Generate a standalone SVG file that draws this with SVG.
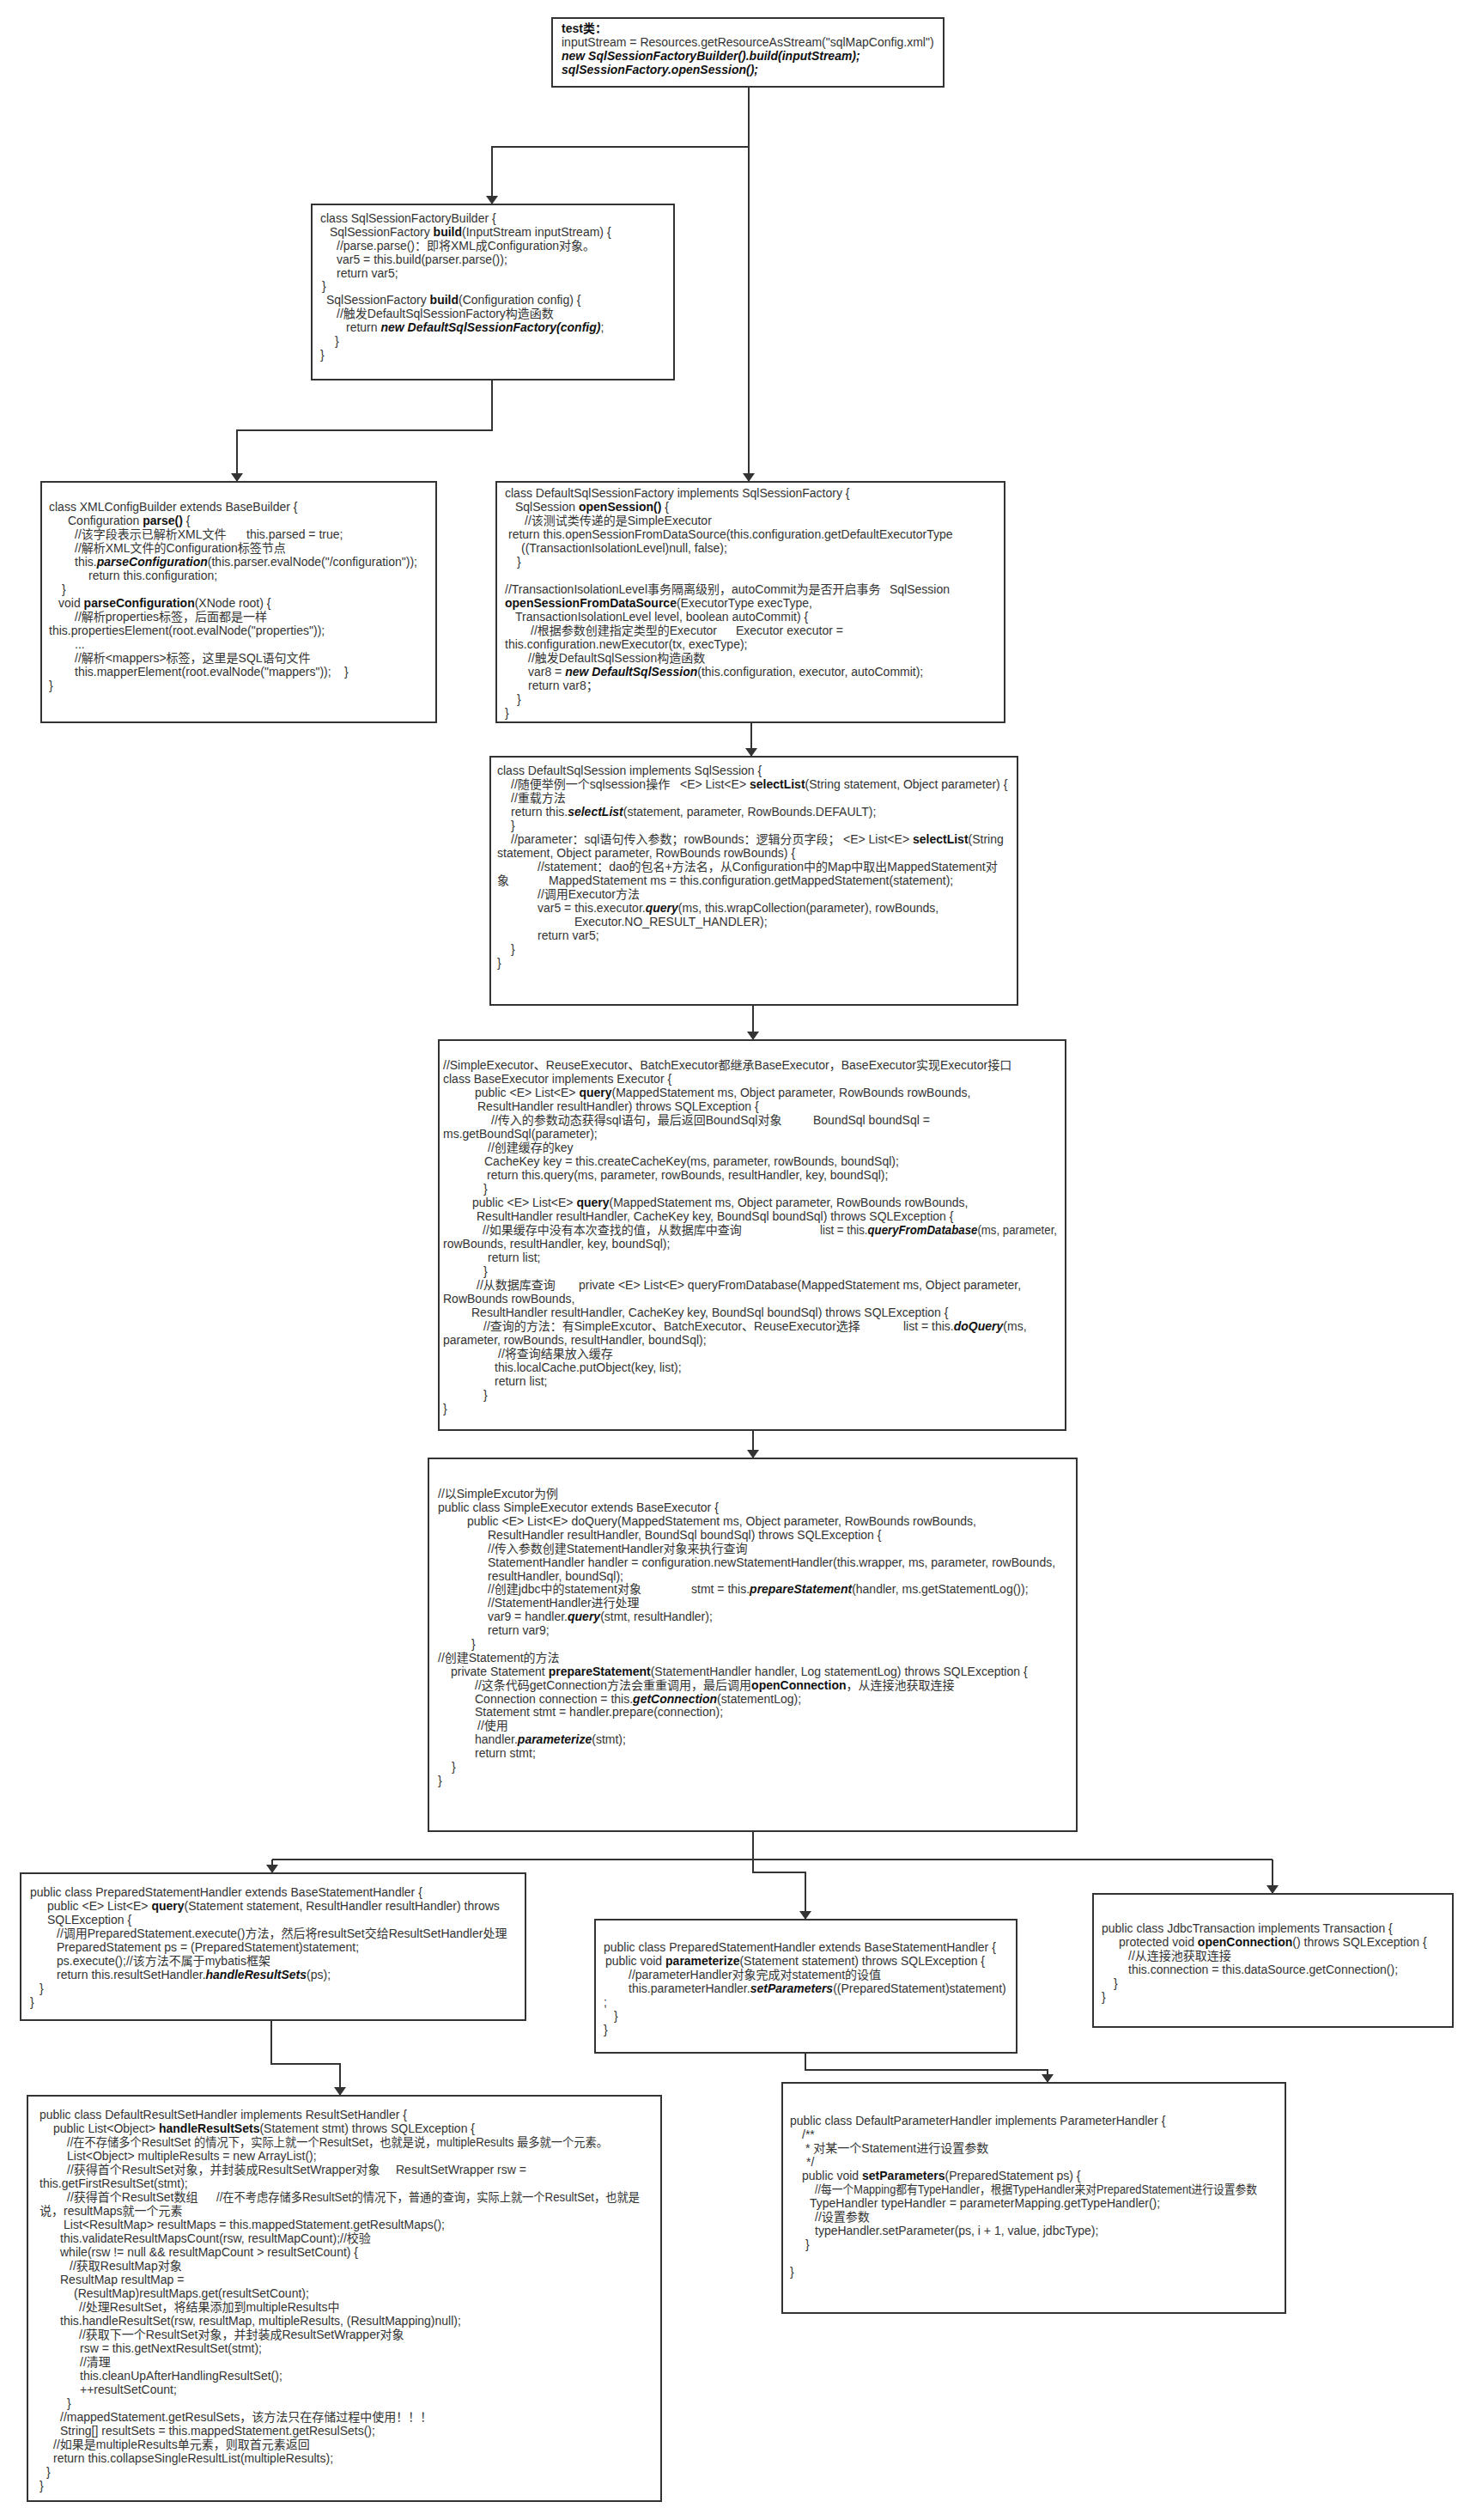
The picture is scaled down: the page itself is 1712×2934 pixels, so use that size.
<svg xmlns="http://www.w3.org/2000/svg" width="1712" height="2934" viewBox="0 0 1712 2934">
<defs>
<style>
.t{font-family:"Liberation Sans","Noto Sans CJK SC",sans-serif;font-size:14px;fill:#333}
.b{font-weight:bold;fill:#111}
.bi{font-weight:bold;font-style:italic;fill:#111}
.box{fill:#fff;stroke:#333;stroke-width:2}
.wire{fill:none;stroke:#333;stroke-width:2}
.arr{fill:none;stroke:#333;stroke-width:2;marker-end:url(#ah)}
</style>
<marker id="ah" viewBox="0 0 10 14" refX="10" refY="7" markerWidth="10" markerHeight="14" markerUnits="userSpaceOnUse" orient="auto">
<path d="M0,0 L10,7 L0,14 z" fill="#333"/>
</marker>
</defs>
<rect width="1712" height="2934" fill="#fff"/>

<g id="connectors">
<path class="arr" d="M872,101 V561"/>
<path class="arr" d="M872,171 H573 V238"/>
<path class="arr" d="M573,442 V501 H276 V561"/>
<path class="arr" d="M875,841 V881"/>
<path class="arr" d="M877,1170 V1211"/>
<path class="arr" d="M877,1665 V1698"/>
<path class="wire" d="M317,2165 H1482"/>
<path class="arr" d="M877,2132 V2180 H938 V2235"/>
<path class="arr" d="M317,2165 V2181"/>
<path class="arr" d="M1482,2165 V2205"/>
<path class="arr" d="M316,2352 V2403 H396 V2440"/>
<path class="arr" d="M938,2390 V2410 H1220 V2425"/>
</g>

<g id="node-test">
<rect class="box" x="643" y="21" width="456" height="80"/>
<text class="t" x="654" y="38"><tspan class="b">test类：</tspan></text>
<text class="t" x="654" y="54">inputStream = Resources.getResourceAsStream("sqlMapConfig.xml")</text>
<text class="t" x="654" y="70"><tspan class="bi">new SqlSessionFactoryBuilder().build(inputStream);</tspan></text>
<text class="t" x="654" y="86"><tspan class="bi">sqlSessionFactory.openSession();</tspan></text>
</g>

<g id="node-sqlsessionfactorybuilder">
<rect class="box" x="363" y="238" width="422" height="204"/>
<text class="t" x="373" y="259">class SqlSessionFactoryBuilder {</text>
<text class="t" x="384" y="275">SqlSessionFactory <tspan class="b">build</tspan>(InputStream inputStream) {</text>
<text class="t" x="392" y="291">//parse.parse()：即将XML成Configuration对象。</text>
<text class="t" x="392" y="307">var5 = this.build(parser.parse());</text>
<text class="t" x="392" y="323">return var5;</text>
<text class="t" x="375" y="338">}</text>
<text class="t" x="380" y="354">SqlSessionFactory <tspan class="b">build</tspan>(Configuration config) {</text>
<text class="t" x="392" y="370">//触发DefaultSqlSessionFactory构造函数</text>
<text class="t" x="403" y="386">return <tspan class="bi">new DefaultSqlSessionFactory(config)</tspan>;</text>
<text class="t" x="390" y="402">}</text>
<text class="t" x="373" y="418">}</text>
</g>

<g id="node-xmlconfigbuilder">
<rect class="box" x="48" y="561" width="460" height="280"/>
<text class="t" x="57" y="595">class XMLConfigBuilder extends BaseBuilder {</text>
<text class="t" x="79" y="611">Configuration <tspan class="b">parse()</tspan> {</text>
<text class="t" x="87" y="627">//该字段表示已解析XML文件<tspan x="287">this.parsed = true;</tspan></text>
<text class="t" x="87" y="643">//解析XML文件的Configuration标签节点</text>
<text class="t" x="87" y="659">this.<tspan class="bi">parseConfiguration</tspan>(this.parser.evalNode("/configuration"));</text>
<text class="t" x="103" y="675">return this.configuration;</text>
<text class="t" x="72" y="691">}</text>
<text class="t" x="68" y="707">void <tspan class="b">parseConfiguration</tspan>(XNode root) {</text>
<text class="t" x="87" y="723">//解析properties标签，后面都是一样</text>
<text class="t" x="57" y="739">this.propertiesElement(root.evalNode("properties"));</text>
<text class="t" x="87" y="755">...</text>
<text class="t" x="87" y="771">//解析&lt;mappers&gt;标签，这里是SQL语句文件</text>
<text class="t" x="87" y="787">this.mapperElement(root.evalNode("mappers"));<tspan x="401">}</tspan></text>
<text class="t" x="57" y="803">}</text>
</g>

<g id="node-defaultsqlsessionfactory">
<rect class="box" x="578" y="561" width="592" height="280"/>
<text class="t" x="588" y="579">class DefaultSqlSessionFactory implements SqlSessionFactory {</text>
<text class="t" x="600" y="595">SqlSession <tspan class="b">openSession()</tspan> {</text>
<text class="t" x="611" y="611">//该测试类传递的是SimpleExecutor</text>
<text class="t" x="592" y="627">return this.openSessionFromDataSource(this.configuration.getDefaultExecutorType</text>
<text class="t" x="607" y="643">((TransactionIsolationLevel)null, false);</text>
<text class="t" x="602" y="659">}</text>
<text class="t" x="588" y="691">//TransactionIsolationLevel事务隔离级别，autoCommit为是否开启事务<tspan x="1036">SqlSession</tspan></text>
<text class="t" x="588" y="707"><tspan class="b">openSessionFromDataSource</tspan>(ExecutorType execType,</text>
<text class="t" x="600" y="723">TransactionIsolationLevel level, boolean autoCommit) {</text>
<text class="t" x="618" y="739">//根据参数创建指定类型的Executor<tspan x="857">Executor executor =</tspan></text>
<text class="t" x="588" y="755">this.configuration.newExecutor(tx, execType);</text>
<text class="t" x="615" y="771">//触发DefaultSqlSession构造函数</text>
<text class="t" x="615" y="787">var8 = <tspan class="bi">new DefaultSqlSession</tspan>(this.configuration, executor, autoCommit);</text>
<text class="t" x="615" y="803">return var8；</text>
<text class="t" x="602" y="819">}</text>
<text class="t" x="588" y="835">}</text>
</g>

<g id="node-defaultsqlsession">
<rect class="box" x="571" y="881" width="614" height="289"/>
<text class="t" x="579" y="902">class DefaultSqlSession implements SqlSession {</text>
<text class="t" x="595" y="918">//随便举例一个sqlsession操作<tspan x="792">&lt;E&gt; List&lt;E&gt; </tspan><tspan class="b">selectList</tspan>(String statement, Object parameter) {</text>
<text class="t" x="595" y="934">//重载方法</text>
<text class="t" x="595" y="950">return this.<tspan class="bi">selectList</tspan>(statement, parameter, RowBounds.DEFAULT);</text>
<text class="t" x="595" y="966">}</text>
<text class="t" x="595" y="982">//parameter：sql语句传入参数；rowBounds：逻辑分页字段；<tspan x="982">&lt;E&gt; List&lt;E&gt; </tspan><tspan class="b">selectList</tspan>(String</text>
<text class="t" x="579" y="998">statement, Object parameter, RowBounds rowBounds) {</text>
<text class="t" x="626" y="1014">//statement：dao的包名+方法名，从Configuration中的Map中取出MappedStatement对</text>
<text class="t" x="579" y="1030">象<tspan x="639">MappedStatement ms = this.configuration.getMappedStatement(statement);</tspan></text>
<text class="t" x="626" y="1046">//调用Executor方法</text>
<text class="t" x="626" y="1062">var5 = this.executor.<tspan class="bi">query</tspan>(ms, this.wrapCollection(parameter), rowBounds,</text>
<text class="t" x="669" y="1078">Executor.NO_RESULT_HANDLER);</text>
<text class="t" x="626" y="1094">return var5;</text>
<text class="t" x="595" y="1110">}</text>
<text class="t" x="579" y="1126">}</text>
</g>

<g id="node-baseexecutor">
<rect class="box" x="511" y="1211" width="730" height="454"/>
<text class="t" x="516" y="1245">//SimpleExecutor、ReuseExecutor、BatchExecutor都继承BaseExecutor，BaseExecutor实现Executor接口</text>
<text class="t" x="516" y="1261">class BaseExecutor implements Executor {</text>
<text class="t" x="553" y="1277">public &lt;E&gt; List&lt;E&gt; <tspan class="b">query</tspan>(MappedStatement ms, Object parameter, RowBounds rowBounds,</text>
<text class="t" x="556" y="1293">ResultHandler resultHandler) throws SQLException {</text>
<text class="t" x="572" y="1309">//传入的参数动态获得sql语句，最后返回BoundSql对象<tspan x="947">BoundSql boundSql =</tspan></text>
<text class="t" x="516" y="1325">ms.getBoundSql(parameter);</text>
<text class="t" x="568" y="1341">//创建缓存的key</text>
<text class="t" x="564" y="1357">CacheKey key = this.createCacheKey(ms, parameter, rowBounds, boundSql);</text>
<text class="t" x="567" y="1373">return this.query(ms, parameter, rowBounds, resultHandler, key, boundSql);</text>
<text class="t" x="563" y="1389">}</text>
<text class="t" x="550" y="1405">public &lt;E&gt; List&lt;E&gt; <tspan class="b">query</tspan>(MappedStatement ms, Object parameter, RowBounds rowBounds,</text>
<text class="t" x="555" y="1421">ResultHandler resultHandler, CacheKey key, BoundSql boundSql) throws SQLException {</text>
<text class="t" x="562" y="1437">//如果缓存中没有本次查找的值，从数据库中查询</text>
<text class="t" x="955" y="1437" textLength="276" lengthAdjust="spacingAndGlyphs">list = this.<tspan class="bi">queryFromDatabase</tspan>(ms, parameter,</text>
<text class="t" x="516" y="1453">rowBounds, resultHandler, key, boundSql);</text>
<text class="t" x="568" y="1469">return list;</text>
<text class="t" x="563" y="1485">}</text>
<text class="t" x="555" y="1501">//从数据库查询<tspan x="674">private &lt;E&gt; List&lt;E&gt; queryFromDatabase(MappedStatement ms, Object parameter,</tspan></text>
<text class="t" x="516" y="1517">RowBounds rowBounds,</text>
<text class="t" x="549" y="1533">ResultHandler resultHandler, CacheKey key, BoundSql boundSql) throws SQLException {</text>
<text class="t" x="563" y="1549">//查询的方法：有SimpleExcutor、BatchExecutor、ReuseExecutor选择<tspan x="1052">list = this.</tspan><tspan class="bi">doQuery</tspan>(ms,</text>
<text class="t" x="516" y="1565">parameter, rowBounds, resultHandler, boundSql);</text>
<text class="t" x="580" y="1581">//将查询结果放入缓存</text>
<text class="t" x="576" y="1597">this.localCache.putObject(key, list);</text>
<text class="t" x="576" y="1613">return list;</text>
<text class="t" x="563" y="1629">}</text>
<text class="t" x="516" y="1645">}</text>
</g>

<g id="node-simpleexecutor">
<rect class="box" x="499" y="1698" width="755" height="434"/>
<text class="t" x="510" y="1744">//以SimpleExcutor为例</text>
<text class="t" x="510" y="1760">public class SimpleExecutor extends BaseExecutor {</text>
<text class="t" x="544" y="1776">public &lt;E&gt; List&lt;E&gt; doQuery(MappedStatement ms, Object parameter, RowBounds rowBounds,</text>
<text class="t" x="568" y="1792">ResultHandler resultHandler, BoundSql boundSql) throws SQLException {</text>
<text class="t" x="568" y="1808">//传入参数创建StatementHandler对象来执行查询</text>
<text class="t" x="568" y="1824">StatementHandler handler = configuration.newStatementHandler(this.wrapper, ms, parameter, rowBounds,</text>
<text class="t" x="568" y="1840">resultHandler, boundSql);</text>
<text class="t" x="568" y="1855">//创建jdbc中的statement对象<tspan x="805">stmt = this.</tspan><tspan class="bi">prepareStatement</tspan>(handler, ms.getStatementLog());</text>
<text class="t" x="568" y="1871">//StatementHandler进行处理</text>
<text class="t" x="568" y="1887">var9 = handler.<tspan class="bi">query</tspan>(stmt, resultHandler);</text>
<text class="t" x="568" y="1903">return var9;</text>
<text class="t" x="549" y="1919">}</text>
<text class="t" x="510" y="1935">//创建Statement的方法</text>
<text class="t" x="525" y="1951">private Statement <tspan class="b">prepareStatement</tspan>(StatementHandler handler, Log statementLog) throws SQLException {</text>
<text class="t" x="553" y="1967">//这条代码getConnection方法会重重调用，最后调用<tspan class="b">openConnection</tspan>，从连接池获取连接</text>
<text class="t" x="553" y="1983">Connection connection = this.<tspan class="bi">getConnection</tspan>(statementLog);</text>
<text class="t" x="553" y="1998">Statement stmt = handler.prepare(connection);</text>
<text class="t" x="556" y="2014">//使用</text>
<text class="t" x="553" y="2030">handler.<tspan class="bi">parameterize</tspan>(stmt);</text>
<text class="t" x="553" y="2046">return stmt;</text>
<text class="t" x="526" y="2062">}</text>
<text class="t" x="510" y="2078">}</text>
</g>

<g id="node-preparedstatementhandler-query">
<rect class="box" x="24" y="2181" width="588" height="171"/>
<text class="t" x="35" y="2208">public class PreparedStatementHandler extends BaseStatementHandler {</text>
<text class="t" x="55" y="2224">public &lt;E&gt; List&lt;E&gt; <tspan class="b">query</tspan>(Statement statement, ResultHandler resultHandler) throws</text>
<text class="t" x="55" y="2240">SQLException {</text>
<text class="t" x="66" y="2256">//调用PreparedStatement.execute()方法，然后将resultSet交给ResultSetHandler处理</text>
<text class="t" x="66" y="2272">PreparedStatement ps = (PreparedStatement)statement;</text>
<text class="t" x="66" y="2288">ps.execute();//该方法不属于mybatis框架</text>
<text class="t" x="66" y="2304">return this.resultSetHandler.<tspan class="bi">handleResultSets</tspan>(ps);</text>
<text class="t" x="46" y="2320">}</text>
<text class="t" x="35" y="2336">}</text>
</g>

<g id="node-preparedstatementhandler-parameterize">
<rect class="box" x="693" y="2235" width="491" height="155"/>
<text class="t" x="703" y="2272">public class PreparedStatementHandler extends BaseStatementHandler {</text>
<text class="t" x="705" y="2288">public void <tspan class="b">parameterize</tspan>(Statement statement) throws SQLException {</text>
<text class="t" x="732" y="2304">//parameterHandler对象完成对statement的设值</text>
<text class="t" x="732" y="2320">this.parameterHandler.<tspan class="bi">setParameters</tspan>((PreparedStatement)statement)</text>
<text class="t" x="703" y="2336">;</text>
<text class="t" x="715" y="2352">}</text>
<text class="t" x="703" y="2368">}</text>
</g>

<g id="node-jdbctransaction">
<rect class="box" x="1273" y="2205" width="419" height="155"/>
<text class="t" x="1283" y="2250">public class JdbcTransaction implements Transaction {</text>
<text class="t" x="1303" y="2266">protected void <tspan class="b">openConnection</tspan>() throws SQLException {</text>
<text class="t" x="1314" y="2282">//从连接池获取连接</text>
<text class="t" x="1314" y="2298">this.connection = this.dataSource.getConnection();</text>
<text class="t" x="1297" y="2314">}</text>
<text class="t" x="1283" y="2330">}</text>
</g>

<g id="node-defaultresultsethandler">
<rect class="box" x="32" y="2440" width="738" height="472"/>
<text class="t" x="46" y="2467">public class DefaultResultSetHandler implements ResultSetHandler {</text>
<text class="t" x="62" y="2483">public List&lt;Object&gt; <tspan class="b">handleResultSets</tspan>(Statement stmt) throws SQLException {</text>
<text class="t" x="78" y="2499" textLength="630" lengthAdjust="spacingAndGlyphs">//在不存储多个ResultSet 的情况下，实际上就一个ResultSet，也就是说，multipleResults 最多就一个元素。</text>
<text class="t" x="78" y="2515">List&lt;Object&gt; multipleResults = new ArrayList();</text>
<text class="t" x="78" y="2531">//获得首个ResultSet对象，并封装成ResultSetWrapper对象<tspan x="461">ResultSetWrapper rsw =</tspan></text>
<text class="t" x="46" y="2547">this.getFirstResultSet(stmt);</text>
<text class="t" x="78" y="2563">//获得首个ResultSet数组</text>
<text class="t" x="252" y="2563" textLength="493" lengthAdjust="spacingAndGlyphs">//在不考虑存储多ResultSet的情况下，普通的查询，实际上就一个ResultSet，也就是</text>
<text class="t" x="46" y="2579">说，resultMaps就一个元素</text>
<text class="t" x="74" y="2595">List&lt;ResultMap&gt; resultMaps = this.mappedStatement.getResultMaps();</text>
<text class="t" x="70" y="2611">this.validateResultMapsCount(rsw, resultMapCount);//校验</text>
<text class="t" x="70" y="2627">while(rsw != null &amp;&amp; resultMapCount &gt; resultSetCount) {</text>
<text class="t" x="81" y="2643">//获取ResultMap对象</text>
<text class="t" x="70" y="2659">ResultMap resultMap =</text>
<text class="t" x="86" y="2675">(ResultMap)resultMaps.get(resultSetCount);</text>
<text class="t" x="92" y="2691">//处理ResultSet，将结果添加到multipleResults中</text>
<text class="t" x="70" y="2707">this.handleResultSet(rsw, resultMap, multipleResults, (ResultMapping)null);</text>
<text class="t" x="92" y="2723">//获取下一个ResultSet对象，并封装成ResultSetWrapper对象</text>
<text class="t" x="93" y="2739">rsw = this.getNextResultSet(stmt);</text>
<text class="t" x="93" y="2755">//清理</text>
<text class="t" x="93" y="2771">this.cleanUpAfterHandlingResultSet();</text>
<text class="t" x="93" y="2787">++resultSetCount;</text>
<text class="t" x="78" y="2803">}</text>
<text class="t" x="70" y="2819">//mappedStatement.getResulSets，该方法只在存储过程中使用！！！</text>
<text class="t" x="70" y="2835">String[] resultSets = this.mappedStatement.getResulSets();</text>
<text class="t" x="62" y="2851">//如果是multipleResults单元素，则取首元素返回</text>
<text class="t" x="62" y="2867">return this.collapseSingleResultList(multipleResults);</text>
<text class="t" x="54" y="2883">}</text>
<text class="t" x="46" y="2899">}</text>
</g>

<g id="node-defaultparameterhandler">
<rect class="box" x="911" y="2425" width="586" height="268"/>
<text class="t" x="920" y="2474">public class DefaultParameterHandler implements ParameterHandler {</text>
<text class="t" x="934" y="2490">/**</text>
<text class="t" x="938" y="2506">* 对某一个Statement进行设置参数</text>
<text class="t" x="939" y="2522">*/</text>
<text class="t" x="934" y="2538">public void <tspan class="b">setParameters</tspan>(PreparedStatement ps) {</text>
<text class="t" x="949" y="2554" textLength="515" lengthAdjust="spacingAndGlyphs">//每一个Mapping都有TypeHandler，根据TypeHandler来对PreparedStatement进行设置参数</text>
<text class="t" x="943" y="2570">TypeHandler typeHandler = parameterMapping.getTypeHandler();</text>
<text class="t" x="949" y="2586">//设置参数</text>
<text class="t" x="949" y="2602">typeHandler.setParameter(ps, i + 1, value, jdbcType);</text>
<text class="t" x="938" y="2618">}</text>
<text class="t" x="920" y="2650">}</text>
</g>
</svg>
